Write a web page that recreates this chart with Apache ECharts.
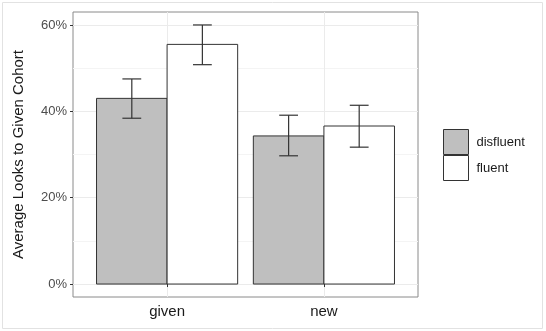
<!DOCTYPE html>
<html>
<head>
<meta charset="utf-8">
<script src="https://cdn.jsdelivr.net/npm/echarts@6/dist/echarts.min.js"></script>
<style>
  html, body { margin: 0; padding: 0; background: #fff; }
  #chart { width: 546px; height: 331px; }
</style>
</head>
<body>
<div id="chart"></div>
<script>
// 数据
var categories = ['given', 'new'];
var groups = ['disfluent', 'fluent'];
var disfluentMean = [43.0, 34.3];
var disfluentLow = [38.4, 29.7];
var disfluentHigh = [47.5, 39.1];
var fluentMean = [55.5, 36.6];
var fluentLow = [50.8, 31.7];
var fluentHigh = [60.0, 41.4];
var yTicks = [0, 20, 40, 60];
var yMinor = [10, 30, 50];

var fillColors = ['#bfbfbf', '#ffffff'];
var font = "'Liberation Sans', Arial, sans-serif";
var dodge = 0.45; // 每组柱宽 (单位: 类目)
var capHalf = 0.06;

function makeData(mean, low, high) {
  var out = [];
  for (var i = 0; i < categories.length; i++) {
    out.push([i + 1, mean[i], low[i], high[i]]);
  }
  return out;
}

function barRender(offset) {
  return function (params, api) {
    var x = api.value(0) + offset;
    var p0 = api.coord([x - dodge / 2, api.value(1)]);
    var p1 = api.coord([x + dodge / 2, 0]);
    var style = api.style();
    return {
      type: 'rect',
      shape: { x: p0[0], y: p0[1], width: p1[0] - p0[0], height: p1[1] - p0[1] },
      style: { fill: style.fill, stroke: '#333', lineWidth: 1 }
    };
  };
}

function errRender(offset) {
  return function (params, api) {
    var x = api.value(0) + offset;
    var lo = api.coord([x, api.value(2)]);
    var hi = api.coord([x, api.value(3)]);
    var l1 = api.coord([x - capHalf, api.value(2)]);
    var r1 = api.coord([x + capHalf, api.value(2)]);
    var l2 = api.coord([x - capHalf, api.value(3)]);
    var r2 = api.coord([x + capHalf, api.value(3)]);
    var st = { stroke: '#333', lineWidth: 1.2 };
    return {
      type: 'group',
      children: [
        { type: 'line', shape: { x1: lo[0], y1: lo[1], x2: hi[0], y2: hi[1] }, style: st },
        { type: 'line', shape: { x1: l1[0], y1: l1[1], x2: r1[0], y2: r1[1] }, style: st },
        { type: 'line', shape: { x1: l2[0], y1: l2[1], x2: r2[0], y2: r2[1] }, style: st }
      ]
    };
  };
}

var Chart = echarts.init(document.getElementById('chart'), null, { renderer: 'canvas' });

var disData = makeData(disfluentMean, disfluentLow, disfluentHigh);
var fluData = makeData(fluentMean, fluentLow, fluentHigh);

var option = {
  animation: false,
  textStyle: { fontFamily: font },
  graphic: [{
    type: 'rect',
    shape: { x: 2.5, y: 2.5, width: 540, height: 326 },
    style: { fill: null, stroke: '#e2e2e2', lineWidth: 1 },
    silent: true
  }],
  grid: {
    left: 73, right: 128, top: 12, bottom: 34,
    show: true, borderColor: '#8a8a8a', borderWidth: 1, backgroundColor: 'transparent'
  },
  legend: {
    orient: 'vertical',
    left: 443, top: 129, padding: 0,
    itemWidth: 25, itemHeight: 25, itemGap: 0,
    textStyle: { fontSize: 13, color: '#1a1a1a', fontFamily: font, padding: [0, 0, 0, 3] },
    data: [
      { name: groups[0], icon: 'rect', itemStyle: { color: fillColors[0], borderColor: '#333', borderWidth: 1 } },
      { name: groups[1], icon: 'rect', itemStyle: { color: fillColors[1], borderColor: '#333', borderWidth: 1 } }
    ]
  },
  xAxis: {
    type: 'value', min: 0.4, max: 2.6,
    axisLine: { show: false },
    axisTick: { show: true, length: 3, customValues: [1, 2], lineStyle: { color: '#333' } },
    axisLabel: {
      customValues: [1, 2], fontSize: 15, color: '#1a1a1a', margin: 7,
      formatter: function (v) { return categories[Math.round(v) - 1]; }
    },
    splitLine: { show: true, lineStyle: { color: '#ebebeb', width: 1 } }
  },
  yAxis: [{
    type: 'value', min: -3, max: 63,
    name: 'Average Looks to Given Cohort',
    nameLocation: 'middle', nameGap: 47,
    nameTextStyle: { fontSize: 15, color: '#1a1a1a', fontFamily: font },
    axisLine: { show: false },
    axisTick: { show: true, length: 3, customValues: yTicks, lineStyle: { color: '#333' } },
    axisLabel: {
      customValues: yTicks, fontSize: 13, color: '#4d4d4d', margin: 6,
      formatter: function (v) { return v + '%'; }
    },
    splitLine: { show: true, lineStyle: { color: '#ebebeb', width: 1 } }
  }, {
    type: 'value', min: -3, max: 63, position: 'left',
    axisLine: { show: false },
    axisTick: { show: false, customValues: yMinor },
    axisLabel: { show: false, customValues: yMinor },
    splitLine: { show: true, lineStyle: { color: '#f4f4f4', width: 1 } }
  }],
  series: [{
    name: groups[0], type: 'custom', renderItem: barRender(-dodge / 2),
    itemStyle: { color: fillColors[0], borderColor: '#333', borderWidth: 1 },
    encode: { x: 0, y: [1, 2, 3] }, data: disData, z: 3
  }, {
    name: groups[1], type: 'custom', renderItem: barRender(dodge / 2),
    itemStyle: { color: fillColors[1], borderColor: '#333', borderWidth: 1 },
    encode: { x: 0, y: [1, 2, 3] }, data: fluData, z: 3
  }, {
    name: 'err-dis', type: 'custom', renderItem: errRender(-dodge / 2),
    encode: { x: 0, y: [1, 2, 3] }, data: disData, z: 4
  }, {
    name: 'err-flu', type: 'custom', renderItem: errRender(dodge / 2),
    encode: { x: 0, y: [1, 2, 3] }, data: fluData, z: 4
  }]
};

Chart.setOption(option);
</script>
</body>
</html>
